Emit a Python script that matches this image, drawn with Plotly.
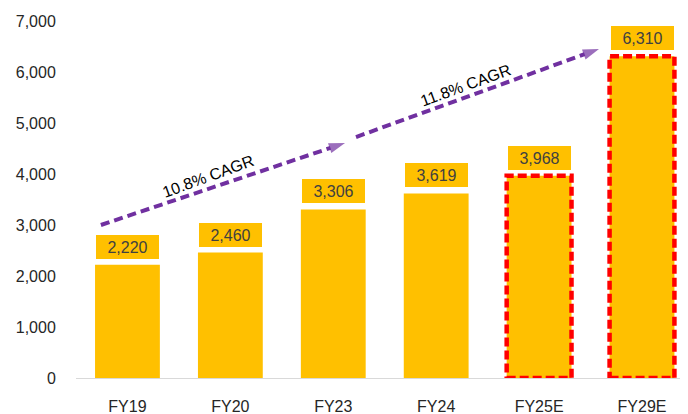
import plotly.graph_objects as go

categories = ["FY19", "FY20", "FY23", "FY24", "FY25E", "FY29E"]
values = [2220, 2460, 3306, 3619, 3968, 6310]
estimate_flags = [False, False, False, False, True, True]
y_tick_vals = [0, 1000, 2000, 3000, 4000, 5000, 6000, 7000]
y_tick_text = ["0", "1,000", "2,000", "3,000", "4,000", "5,000", "6,000", "7,000"]

cagr_labels = ["10.8% CAGR", "11.8% CAGR"]
cagr_arrow_x = [[-0.258, 2.114], [2.221, 4.582]]
cagr_arrow_y = [[3000, 4608], [4725, 6451]]
cagr_text_x = [0.78, 3.28]
cagr_text_y = [3960, 5745]

GOLD = "#FFC000"
PURPLE = "#7030A0"
RED = "#FF0000"
FONT = "Liberation Sans, Arial, sans-serif"
BAR_W = 0.63

xs = list(range(len(categories)))

fig = go.Figure()
fig.add_trace(go.Bar(x=xs, y=values, width=BAR_W, marker=dict(color=GOLD, line=dict(width=0)),
                     hoverinfo="skip", showlegend=False))

for ax_, ay_ in zip(cagr_arrow_x, cagr_arrow_y):
    fig.add_trace(go.Scatter(
        x=ax_, y=ay_, mode="lines+markers",
        line=dict(color=PURPLE, width=4, dash="9px,5px"),
        marker=dict(symbol="arrow", size=[0, 17], color=PURPLE, angleref="previous",
                    line=dict(width=0)),
        hoverinfo="skip", showlegend=False))

shapes = []
for i, (v, est) in enumerate(zip(values, estimate_flags)):
    if est:
        shapes.append(dict(type="rect", xref="x", yref="y",
                           x0=i - BAR_W / 2, x1=i + BAR_W / 2, y0=0, y1=v,
                           line=dict(color=RED, width=4.5, dash="9px,4px"),
                           fillcolor="rgba(0,0,0,0)", layer="above"))

annotations = []
for i, v in enumerate(values):
    annotations.append(dict(x=i, y=v, xref="x", yref="y", text=f"{v:,}", showarrow=False,
                            yanchor="bottom", yshift=6, width=63, height=24,
                            bgcolor=GOLD, borderpad=0, borderwidth=0,
                            font=dict(family=FONT, size=16, color="#404040")))
for t, tx, ty in zip(cagr_labels, cagr_text_x, cagr_text_y):
    annotations.append(dict(x=tx, y=ty, xref="x", yref="y", text=t, showarrow=False,
                            textangle=-20, font=dict(family=FONT, size=16, color="#000000")))

# page body has an 8px margin, so the figure is drawn 8px right/down
fig.update_layout(
    width=680, height=406,
    margin=dict(l=68, r=0, t=13, b=36, autoexpand=False),
    paper_bgcolor="white", plot_bgcolor="white",
    font=dict(family=FONT, size=16, color="#262626"),
    xaxis=dict(range=[-0.5, 5.447], tickvals=xs, ticktext=categories, showgrid=False,
               zeroline=False, showline=True, linecolor="#D9D9D9", linewidth=1,
               ticks="outside", ticklen=14, tickcolor="rgba(0,0,0,0)",
               tickfont=dict(family=FONT, size=16, color="#262626")),
    yaxis=dict(range=[0, 7000], tickvals=y_tick_vals, ticktext=y_tick_text, showgrid=False,
               zeroline=False, showline=False, ticks="outside", ticklen=16,
               tickcolor="rgba(0,0,0,0)",
               tickfont=dict(family=FONT, size=16, color="#262626")),
    shapes=shapes, annotations=annotations,
)

fig.write_html("out.html")
